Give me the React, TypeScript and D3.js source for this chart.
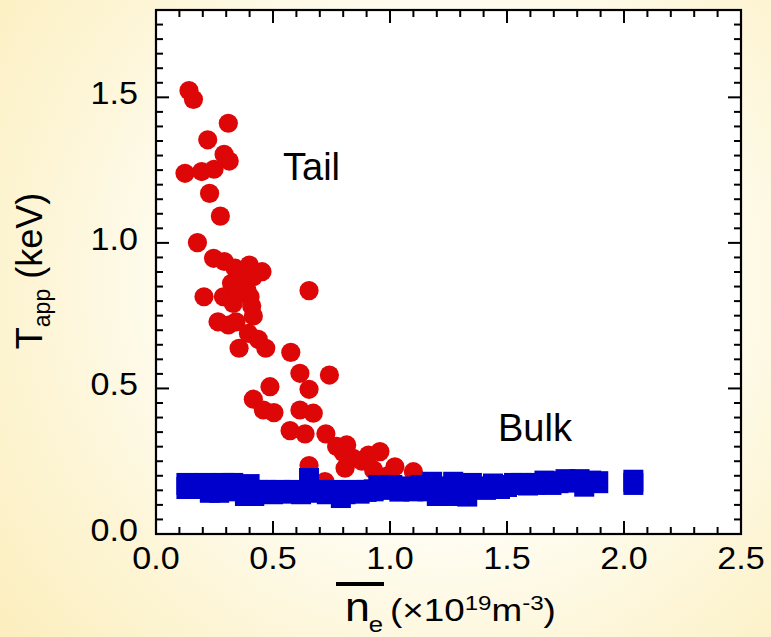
import React from "react";
import * as d3 from "d3";

// Tail (red circles): density (1e19 m^-3), T_app (keV)
const tailX = [0.141,0.160,0.309,0.221,0.291,0.313,0.124,0.195,0.248,0.229,0.275,0.177,0.246,0.292,0.338,0.399,0.453,0.359,0.416,0.323,0.388,0.654,0.205,0.288,0.345,0.402,0.330,0.409,0.416,0.265,0.309,0.342,0.395,0.437,0.355,0.469,0.576,0.615,0.741,0.487,0.654,0.416,0.459,0.504,0.615,0.672,0.573,0.637,0.726,0.772,0.815,0.808,0.843,0.908,0.957,1.021,1.100,0.654,0.722,0.800,0.880,0.930,0.990];
const tailY = [1.523,1.493,1.411,1.354,1.304,1.281,1.239,1.245,1.253,1.170,1.092,1.001,0.947,0.936,0.913,0.924,0.901,0.873,0.884,0.861,0.838,0.836,0.815,0.815,0.821,0.815,0.792,0.783,0.749,0.729,0.718,0.729,0.689,0.669,0.638,0.638,0.624,0.552,0.546,0.506,0.497,0.463,0.426,0.417,0.426,0.415,0.355,0.344,0.344,0.301,0.306,0.226,0.260,0.271,0.283,0.231,0.214,0.235,0.180,0.280,0.250,0.220,0.200];

// Bulk (blue squares)
const bulkX = [0.13,0.13,0.16,0.18,0.21,0.23,0.25,0.27,0.29,0.31,0.33,0.35,0.38,0.40,0.42,0.44,0.47,0.50,0.53,0.56,0.59,0.62,0.654,0.67,0.70,0.73,0.76,0.79,0.81,0.84,0.87,0.90,0.93,0.95,0.98,1.01,1.04,1.07,1.10,1.13,1.16,1.18,1.20,1.23,1.25,1.27,1.29,1.31,1.33,1.35,1.38,1.41,1.44,1.47,1.50,1.53,1.56,1.59,1.62,1.66,1.69,1.72,1.75,1.78,1.81,1.83,1.86,1.89,2.04,2.04];
const bulkY = [0.172,0.158,0.168,0.158,0.172,0.145,0.165,0.145,0.172,0.160,0.172,0.150,0.134,0.168,0.134,0.148,0.148,0.140,0.148,0.142,0.148,0.140,0.189,0.145,0.148,0.140,0.148,0.127,0.140,0.148,0.142,0.148,0.150,0.165,0.155,0.165,0.149,0.160,0.150,0.165,0.150,0.176,0.134,0.160,0.134,0.176,0.150,0.165,0.132,0.172,0.160,0.155,0.170,0.158,0.165,0.172,0.172,0.170,0.172,0.180,0.172,0.178,0.185,0.180,0.185,0.166,0.180,0.178,0.183,0.172];

const xMajor = [0, 0.5, 1.0, 1.5, 2.0, 2.5];
const yMajor = [0, 0.5, 1.0, 1.5];
const xLabels = ["0.0", "0.5", "1.0", "1.5", "2.0", "2.5"];
const yLabels = ["0.0", "0.5", "1.0", "1.5"];

const W = 771, H = 637;
const L = 156, R = 741, T = 10, B = 534;

export default function App() {
  const x = d3.scaleLinear().domain([0, 2.5]).range([L, R]);
  const y = d3.scaleLinear().domain([0, 1.8]).range([B, T]);
  const xMinor = d3.range(0, 26).map((i) => i / 10).filter((v) => !xMajor.some((m) => Math.abs(m - v) < 1e-6));
  const yMinor = d3.range(0, 37).map((i) => i / 20).filter((v) => !yMajor.some((m) => Math.abs(m - v) < 1e-6));
  const font = "'Liberation Sans', Arial, sans-serif";
  const red = "#DD0707";
  const blue = "#0000CC";
  const sq = 20, sqh = 22;
  return (
    <svg width={W} height={H} style={{ position: "absolute", left: 0, top: 0 }} fontFamily={font}>
      <defs>
        <radialGradient id="bg" gradientUnits="userSpaceOnUse" cx={440} cy={280} r={560}>
          <stop offset="0" stopColor="#FFFFFF" />
          <stop offset="0.42" stopColor="#FFFEF6" />
          <stop offset="0.72" stopColor="#FDF5D6" />
          <stop offset="1" stopColor="#FCEEBE" />
        </radialGradient>
        <clipPath id="plot"><rect x={L} y={T} width={R - L} height={B - T} /></clipPath>
      </defs>
      <rect x={0} y={0} width={W} height={H} fill="url(#bg)" />
      <rect x={L} y={T} width={R - L} height={B - T} fill="#FFFFFF" />
      <g clipPath="url(#plot)">
        {tailX.map((v, i) => (
          <circle key={"r" + i} cx={x(v)} cy={y(tailY[i])} r={9.6} fill={red} />
        ))}
        {bulkX.map((v, i) => (
          <rect key={"b" + i} x={x(v) - sq / 2} y={y(bulkY[i]) - sqh / 2} width={sq} height={sqh} fill={blue} />
        ))}
      </g>
      {/* ticks */}
      <g stroke="#000" strokeWidth={2}>
        {xMajor.map((v) => (
          <g key={"xm" + v}>
            <line x1={x(v)} x2={x(v)} y1={B} y2={B - 13} />
            <line x1={x(v)} x2={x(v)} y1={T} y2={T + 13} />
          </g>
        ))}
        {xMinor.map((v) => (
          <g key={"xn" + v}>
            <line x1={x(v)} x2={x(v)} y1={B} y2={B - 7} />
            <line x1={x(v)} x2={x(v)} y1={T} y2={T + 7} />
          </g>
        ))}
        {yMajor.map((v) => (
          <g key={"ym" + v}>
            <line x1={L} x2={L + 13} y1={y(v)} y2={y(v)} />
            <line x1={R} x2={R - 13} y1={y(v)} y2={y(v)} />
          </g>
        ))}
        {yMinor.map((v) => (
          <g key={"yn" + v}>
            <line x1={L} x2={L + 7} y1={y(v)} y2={y(v)} />
            <line x1={R} x2={R - 7} y1={y(v)} y2={y(v)} />
          </g>
        ))}
      </g>
      <rect x={L} y={T} width={R - L} height={B - T} fill="none" stroke="#000" strokeWidth={2.2} />
      {/* tick labels */}
      {xMajor.map((v, i) => (
        <text key={"xl" + v} transform={`translate(${x(v)},${569}) scale(1.1,1)`} textAnchor="middle" fontSize={31} fill="#000">
          {xLabels[i]}
        </text>
      ))}
      {yMajor.map((v, i) => (
        <text key={"yl" + v} transform={`translate(${138},${y(v) + 7}) scale(1.1,1)`} textAnchor="end" fontSize={31} fill="#000">
          {yLabels[i]}
        </text>
      ))}
      {/* annotations */}
      <text x={283} y={180} fontSize={38} fill="#000">Tail</text>
      <text x={498} y={441} fontSize={38} fill="#000">Bulk</text>
      {/* y title */}
      <text transform={`translate(42,271) rotate(-90)`} textAnchor="middle" fontSize={36} fill="#000">
        T<tspan fontSize={23} dy={8}>app</tspan><tspan dy={-8}> (keV)</tspan>
      </text>
      {/* x title */}
      <line x1={336} x2={384} y1={584} y2={584} stroke="#000" strokeWidth={4} />
      <text transform={`translate(345,621) scale(1.12,1)`} fontSize={40} fill="#000">
        n<tspan fontSize={23} dy={11} dx={-1}>e</tspan>
      </text>
      <text transform={`translate(390,621) scale(1.15,1)`} fontSize={32} fill="#000">
        (×10<tspan fontSize={21} dy={-11}>19</tspan><tspan dy={11}>m</tspan><tspan fontSize={21} dy={-11}>-3</tspan><tspan dy={11}>)</tspan>
      </text>
    </svg>
  );
}
